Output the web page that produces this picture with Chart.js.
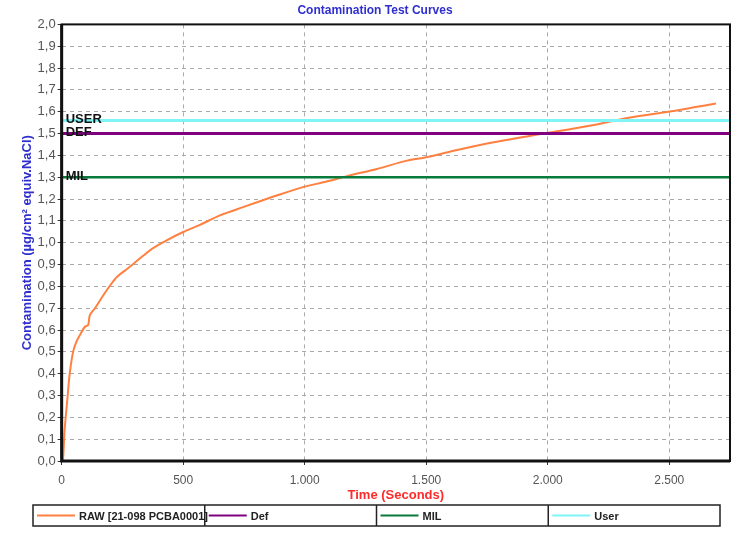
<!DOCTYPE html>
<html>
<head>
<meta charset="utf-8">
<script src="https://cdn.jsdelivr.net/npm/chart.js@4"></script>
<style>
  html, body { margin: 0; padding: 0; background: #fff; }
  #wrap { width: 743px; height: 534px; }
</style>
</head>
<body>
<div id="wrap"><canvas id="chart" width="743" height="534"></canvas></div>
<script>
const timeSec = [0, 5, 12, 24, 33, 47, 60, 75, 96, 109, 116, 137, 170, 200, 227, 260, 296, 335, 373, 430,
    500, 569, 651, 747, 885, 1000, 1090, 1174, 1297, 1421, 1500, 1613, 1778, 1970, 2053, 2190, 2328, 2503, 2602, 2692];
const rawValues = [0, 0.0, 0.14, 0.29, 0.40, 0.50, 0.545, 0.577, 0.615, 0.623, 0.668, 0.70, 0.757, 0.805, 0.843, 0.872, 0.904, 0.94, 0.973, 1.01,
    1.049, 1.082, 1.125, 1.163, 1.216, 1.257, 1.28, 1.305, 1.338, 1.376, 1.391, 1.421, 1.46, 1.498, 1.513, 1.539, 1.571, 1.601, 1.62, 1.638];

// limit lines
const limitNames = ["Def", "MIL", "User"];
const limitTags = ["DEF", "MIL", "USER"];
const limitValues = [1.5, 1.3, 1.56];
const limitColors = ["#800080", "#087a3c", "#7ff5f7"];
const limitWidths = [3, 2.5, 3];

const xTicks = [0, 500, 1000, 1500, 2000, 2500];
const xMax = 2750;

const rawPoints = timeSec.map((t, i) => ({ x: t, y: rawValues[i] }));

const datasets = [
    {
        label: "RAW [21-098 PCBA0001]",
        data: rawPoints,
        borderColor: "#ff8040",
        borderWidth: 2,
        pointRadius: 0,
        tension: 0.3,
        order: 1
    }
];
limitNames.forEach((name, i) => {
    datasets.push({
        label: name,
        data: [{ x: 0, y: limitValues[i] }, { x: xMax, y: limitValues[i] }],
        borderColor: limitColors[i],
        borderWidth: limitWidths[i],
        pointRadius: 0,
        order: 0
    });
});

function fmtX(v) {
    if (v >= 1000) {
        const s = String(v);
        return s.slice(0, s.length - 3) + "." + s.slice(s.length - 3);
    }
    return String(v);
}

// frame, limit tags and boxed legend
const extras = {
    id: "extras",
    afterDatasetsDraw(chart) {
        const ctx = chart.ctx;
        const a = chart.chartArea;
        const ys = chart.scales.y;
        ctx.save();
        ctx.font = "bold 13px 'Liberation Sans', Arial, sans-serif";
        ctx.fillStyle = "#111";
        ctx.textBaseline = "middle";
        ctx.textAlign = "left";
        limitTags.forEach((tag, i) => {
            ctx.fillText(tag, a.left + 4, ys.getPixelForValue(limitValues[i]) - 1);
        });

        ctx.strokeStyle = "#111";
        ctx.lineWidth = 2;
        ctx.strokeRect(a.left, a.top, a.right - a.left, a.bottom - a.top);
        ctx.lineWidth = 3;
        ctx.beginPath();
        ctx.moveTo(a.left, a.top);
        ctx.lineTo(a.left, a.bottom);
        ctx.lineTo(a.right, a.bottom);
        ctx.stroke();
        ctx.restore();
    },
    afterDraw(chart) {
        const ctx = chart.ctx;
        const left = 33, right = 720, top = 505, h = 21;
        const cellW = (right - left) / 4;
        ctx.save();
        ctx.fillStyle = "#fff";
        ctx.fillRect(left, top, right - left, h);
        ctx.strokeStyle = "#222";
        ctx.lineWidth = 1.5;
        ctx.strokeRect(left, top, right - left, h);
        ctx.font = "bold 11px 'Liberation Sans', Arial, sans-serif";
        ctx.textBaseline = "middle";
        chart.data.datasets.forEach((ds, i) => {
            const cx = left + i * cellW;
            if (i > 0) {
                ctx.strokeStyle = "#222";
                ctx.lineWidth = 1.5;
                ctx.beginPath();
                ctx.moveTo(cx, top);
                ctx.lineTo(cx, top + h);
                ctx.stroke();
            }
            ctx.strokeStyle = ds.borderColor;
            ctx.lineWidth = 2;
            ctx.beginPath();
            ctx.moveTo(cx + 4, top + h / 2);
            ctx.lineTo(cx + 42, top + h / 2);
            ctx.stroke();
            ctx.fillStyle = "#222";
            ctx.fillText(ds.label, cx + 46, top + h / 2 + 1);
        });
        ctx.restore();
    }
};

new Chart(document.getElementById("chart"), {
    type: "line",
    data: { datasets: datasets },
    plugins: [extras],
    options: {
        responsive: false,
        animation: false,
        layout: { padding: { left: 20, right: 13, top: 0, bottom: 31 } },
        plugins: {
            legend: { display: false },
            tooltip: { enabled: false },
            title: {
                display: true,
                text: "Contamination Test Curves",
                color: "#2f2fd0",
                font: { family: "'Liberation Sans', Arial", size: 12, weight: "bold" },
                padding: { top: 3, bottom: 7 }
            }
        },
        scales: {
            x: {
                type: "linear",
                min: 0,
                max: xMax,
                afterBuildTicks: (scale) => {
                    scale.ticks = xTicks.map((v) => ({ value: v }));
                },
                ticks: {
                    maxRotation: 0,
                    autoSkip: false,
                    color: "#555",
                    font: { family: "'Liberation Sans', Arial", size: 12 },
                    padding: 8,
                    callback: (v) => fmtX(v)
                },
                grid: { color: "#aaa", lineWidth: 1, tickLength: 4, tickColor: "#333" },
                border: { display: false, dash: [4, 4] },
                title: {
                    display: true,
                    text: "Time (Seconds)",
                    color: "#ff2a2a",
                    font: { family: "'Liberation Sans', Arial", size: 13, weight: "bold" },
                    padding: { top: -8, bottom: 0 }
                }
            },
            y: {
                min: 0,
                max: 2,
                ticks: {
                    stepSize: 0.1,
                    color: "#555",
                    font: { family: "'Liberation Sans', Arial", size: 13 },
                    padding: 2,
                    callback: (v) => v.toFixed(1).replace(".", ",")
                },
                grid: { color: "#aaa", lineWidth: 1, tickLength: 4, tickColor: "#333" },
                border: { display: false, dash: [4, 4] },
                title: {
                    display: true,
                    text: "Contamination (µg/cm² equiv.NaCl)",
                    color: "#2f2fd0",
                    font: { family: "'Liberation Sans', Arial", size: 13, weight: "bold" },
                    padding: { top: 0, bottom: 0 }
                }
            }
        }
    }
});
</script>
</body>
</html>
